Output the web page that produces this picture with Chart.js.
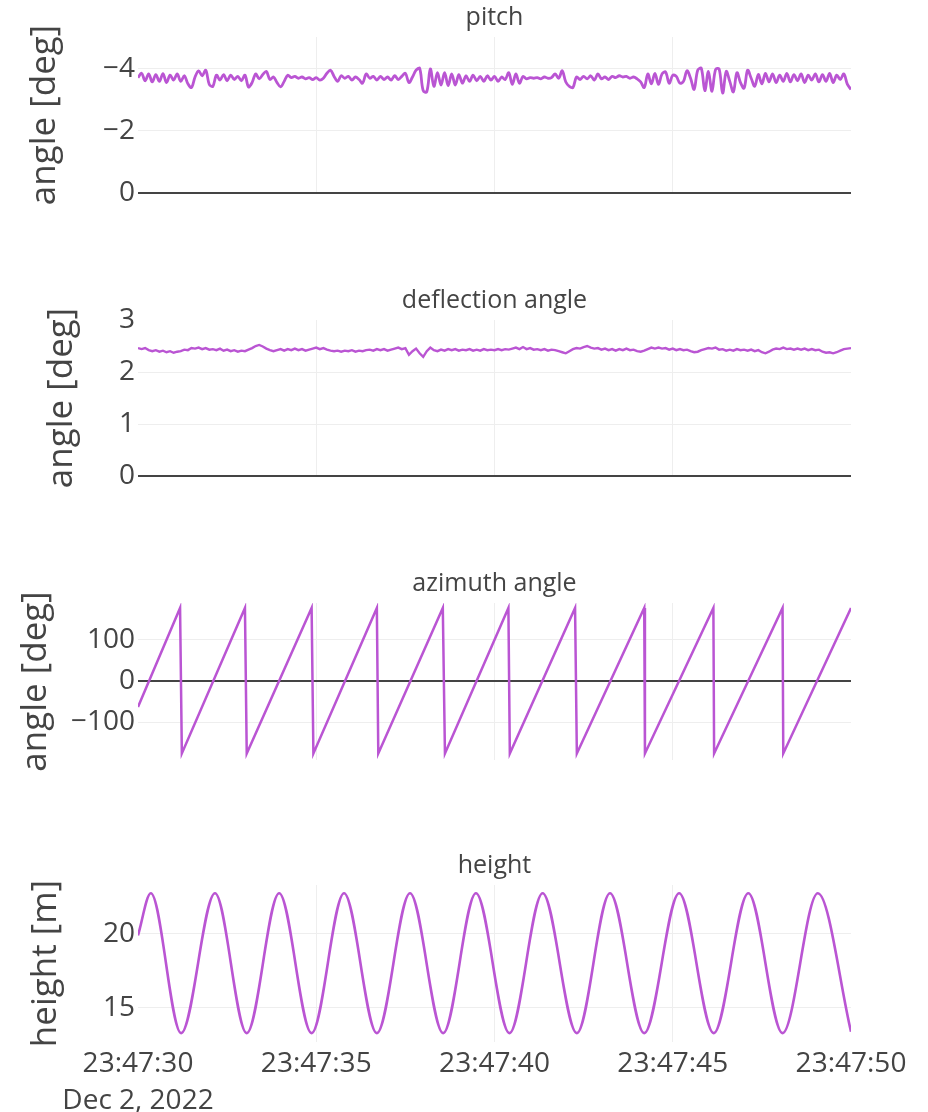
<!DOCTYPE html>
<html>
<head>
<meta charset="utf-8">
<title>pitch / deflection angle / azimuth angle / height</title>
<script src="https://cdn.jsdelivr.net/npm/chart.js@4.4.1/dist/chart.umd.min.js"></script>
<style>
  html, body { margin: 0; padding: 0; background: #fff; }
  #wrap { position: relative; width: 928px; height: 1112px; overflow: hidden; }
  #wrap canvas { position: absolute; left: 0; }
</style>
</head>
<body>
<div id="wrap">
  <canvas id="pitch" width="928" height="283" style="top:0px"></canvas>
  <canvas id="deflection" width="928" height="283" style="top:283px"></canvas>
  <canvas id="azimuth" width="928" height="284" style="top:566px"></canvas>
  <canvas id="height" width="928" height="264" style="top:848px"></canvas>
</div>
<script>
// time axis (seconds after 23:47:30)
const tickSeconds = [0, 5, 10, 15, 20];
const tickLabels = ["23:47:30", "23:47:35", "23:47:40", "23:47:45", "23:47:50"];
const dateLabel = "Dec 2, 2022";

// pitch and deflection are sampled every 0.1 s from 0 to 20 s
const sampleStep = 0.1;

const pitchValues = [
    -3.72, -3.86, -3.62, -3.84, -3.58, -3.82, -3.60, -3.85, -3.56, -3.80,
    -3.64, -3.84, -3.60, -3.78, -3.52, -3.40, -3.74, -3.94, -3.78, -3.96,
    -3.50, -3.44, -3.80, -3.64, -3.82, -3.62, -3.80, -3.66, -3.76, -3.62,
    -3.80, -3.42, -3.56, -3.84, -3.68, -3.82, -3.92, -3.66, -3.74, -3.56,
    -3.42, -3.60, -3.80, -3.72, -3.76, -3.70, -3.74, -3.68, -3.72, -3.66,
    -3.72, -3.64, -3.70, -3.86, -3.96, -3.76, -3.60, -3.78, -3.70, -3.76,
    -3.64, -3.74, -3.66, -3.54, -3.84, -3.70, -3.76, -3.64, -3.76, -3.66,
    -3.74, -3.64, -3.78, -3.66, -3.76, -3.86, -3.56, -3.74, -3.96, -4.02,
    -3.30, -3.26, -4.00, -3.44, -3.88, -3.48, -3.88, -3.46, -3.84, -3.48,
    -3.82, -3.54, -3.78, -3.60, -3.80, -3.62, -3.76, -3.60, -3.78, -3.64,
    -3.76, -3.60, -3.74, -3.66, -3.88, -3.50, -3.84, -3.54, -3.76, -3.68,
    -3.72, -3.70, -3.72, -3.68, -3.74, -3.70, -3.72, -3.84, -3.70, -3.94,
    -3.58, -3.44, -3.40, -3.74, -3.66, -3.76, -3.68, -3.78, -3.64, -3.84,
    -3.68, -3.74, -3.66, -3.76, -3.72, -3.78, -3.74, -3.76, -3.70, -3.74,
    -3.68, -3.58, -3.40, -3.84, -3.52, -3.86, -3.50, -3.84, -3.90, -3.54,
    -3.80, -3.76, -3.54, -3.60, -3.94, -3.70, -3.34, -3.96, -4.02, -3.30,
    -3.92, -3.28, -3.98, -4.00, -3.22, -3.92, -3.60, -3.26, -3.88, -3.56,
    -3.38, -3.96, -3.70, -3.44, -3.82, -3.52, -3.86, -3.58, -3.84, -3.56,
    -3.80, -3.60, -3.86, -3.58, -3.82, -3.62, -3.84, -3.56, -3.80, -3.64,
    -3.84, -3.58, -3.82, -3.60, -3.86, -3.56, -3.80, -3.66, -3.84, -3.50,
    -3.34
];

const deflectionValues = [
    2.46, 2.44, 2.46, 2.42, 2.40, 2.42, 2.39, 2.41, 2.38, 2.40,
    2.37, 2.39, 2.40, 2.43, 2.42, 2.46, 2.45, 2.47, 2.44, 2.46,
    2.43, 2.44, 2.42, 2.45, 2.41, 2.43, 2.40, 2.42, 2.39, 2.41,
    2.40, 2.43, 2.46, 2.50, 2.52, 2.49, 2.45, 2.42, 2.40, 2.42,
    2.44, 2.41, 2.44, 2.42, 2.45, 2.42, 2.44, 2.41, 2.43, 2.45,
    2.47, 2.44, 2.46, 2.43, 2.41, 2.40, 2.41, 2.39, 2.41, 2.40,
    2.42, 2.39, 2.41, 2.40, 2.42, 2.43, 2.41, 2.44, 2.42, 2.44,
    2.41, 2.43, 2.45, 2.47, 2.44, 2.46, 2.33, 2.40, 2.45, 2.36,
    2.29, 2.40, 2.47, 2.42, 2.40, 2.43, 2.41, 2.44, 2.42, 2.44,
    2.41, 2.43, 2.42, 2.44, 2.41, 2.43, 2.41, 2.44, 2.42, 2.43,
    2.42, 2.44, 2.42, 2.44, 2.43, 2.45, 2.47, 2.44, 2.48, 2.44,
    2.46, 2.43, 2.44, 2.42, 2.44, 2.41, 2.43, 2.42, 2.40, 2.38,
    2.36, 2.40, 2.44, 2.46, 2.45, 2.48, 2.50, 2.47, 2.45, 2.46,
    2.43, 2.45, 2.42, 2.44, 2.41, 2.44, 2.42, 2.45, 2.42, 2.43,
    2.40, 2.39, 2.41, 2.44, 2.47, 2.45, 2.47, 2.45, 2.46, 2.43,
    2.45, 2.42, 2.44, 2.42, 2.43, 2.40, 2.38, 2.39, 2.42, 2.44,
    2.46, 2.45, 2.47, 2.43, 2.44, 2.41, 2.43, 2.41, 2.44, 2.42,
    2.43, 2.41, 2.43, 2.40, 2.42, 2.38, 2.36, 2.39, 2.43, 2.45,
    2.44, 2.47, 2.44, 2.45, 2.43, 2.45, 2.43, 2.45, 2.42, 2.44,
    2.42, 2.43, 2.39, 2.37, 2.38, 2.36, 2.38, 2.41, 2.44, 2.45,
    2.46
];

// azimuth: ramp tops and bottoms (seconds / degrees)
const azimuthTimes = [0, 1.18, 1.23, 3.00, 3.05, 4.87, 4.92, 6.70, 6.74, 8.55, 8.61,
    10.39, 10.43, 12.26, 12.31, 14.20, 14.22, 16.14, 16.16, 18.08, 18.10, 20.00, 20.02];
const azimuthValues = [-63, 178, -176, 178, -176, 178, -176, 178, -176, 178, -176,
    178, -176, 178, -176, 178, -176, 178, -176, 178, -176, 178, -176];

// height: crests and troughs (seconds / metres)
const heightTimes = [0, 0.36, 1.21, 2.16, 3.05, 3.96, 4.87, 5.78, 6.70, 7.63, 8.56,
    9.48, 10.42, 11.35, 12.31, 13.24, 14.20, 15.18, 16.15, 17.12, 18.08, 19.07, 20.00];
const heightValues = [19.9, 22.75, 13.3, 22.75, 13.3, 22.75, 13.3, 22.75, 13.3, 22.75, 13.3,
    22.75, 13.3, 22.75, 13.3, 22.75, 13.3, 22.75, 13.3, 22.75, 13.3, 22.75, 13.4];


Chart.defaults.font.family = '"Open Sans", "DejaVu Sans", sans-serif';
Chart.defaults.color = "#444";

var LINE = "#ba55d3";

// subplot title above each plot area
var panelTitle = {
    id: "panelTitle",
    afterDraw: function (chart, args, opts) {
        var a = chart.chartArea, ctx = chart.ctx;
        ctx.save();
        ctx.font = '25px "Open Sans", sans-serif';
        ctx.fillStyle = "#444";
        ctx.textAlign = "center";
        ctx.textBaseline = "middle";
        ctx.fillText(opts.text, (a.left + a.right) / 2, a.top - 19);
        ctx.restore();
    }
};

function sampled(values) {
    return values.map(function (v, i) { return { x: Math.round(i * sampleStep * 10) / 10, y: v }; });
}

function paired(times, values) {
    return times.map(function (t, i) { return { x: t, y: values[i] }; });
}

function minusSign(v) {
    return v < 0 ? "\u2212" + Math.abs(v) : String(v);
}

// p: title, yTitle, titleGap, line width, tension, smooth, showTime
function panel(id, p, points, y) {
    return new Chart(document.getElementById(id).getContext("2d"), {
        type: "line",
        data: {
            datasets: [{
                data: points,
                borderColor: LINE,
                borderWidth: p.width,
                pointRadius: 0,
                tension: p.tension || 0,
                cubicInterpolationMode: p.smooth ? "monotone" : "default"
            }]
        },
        plugins: [panelTitle],
        options: {
            responsive: false,
            animation: false,
            events: [],
            layout: { padding: { left: 0, right: 77, top: 37, bottom: 0 } },
            plugins: {
                legend: { display: false },
                tooltip: { enabled: false },
                panelTitle: { text: p.title }
            },
            scales: {
                x: {
                    type: "linear",
                    min: 0,
                    max: 20,
                    border: { display: false },
                    grid: {
                        drawTicks: false,
                        color: function (c) {
                            return (c.tick && c.tick.value > 0 && c.tick.value < 20) ? "#eee" : "rgba(0,0,0,0)";
                        }
                    },
                    ticks: {
                        display: !!p.showTime,
                        stepSize: 5,
                        autoSkip: false,
                        maxRotation: 0,
                        padding: 4,
                        color: "#444",
                        font: { size: 28, lineHeight: 1.3 },
                        callback: function (value) {
                            var i = tickSeconds.indexOf(value);
                            if (i < 0) return "";
                            return i === 0 ? [tickLabels[0], dateLabel] : tickLabels[i];
                        }
                    },
                    afterFit: function (s) { s.height = p.showTime ? 70 : 90; }
                },
                y: {
                    min: y.min,
                    max: y.max,
                    reverse: !!y.reverse,
                    border: { display: false },
                    grid: {
                        drawTicks: false,
                        color: function (c) {
                            if (!c.tick) return "#eee";
                            if (c.tick.value === 0) return "#444";
                            if (c.tick.value === y.min || c.tick.value === y.max) return "rgba(0,0,0,0)";
                            return "#eee";
                        },
                        lineWidth: function (c) {
                            return (c.tick && c.tick.value === 0) ? 2 : 1;
                        }
                    },
                    ticks: {
                        stepSize: y.step,
                        includeBounds: false,
                        padding: 3,
                        color: "#444",
                        font: { size: 28 },
                        callback: minusSign
                    },
                    title: {
                        display: true,
                        text: p.yTitle,
                        color: "#444",
                        font: { size: 35 },
                        padding: { top: p.titleGap, bottom: 0 }
                    },
                    afterFit: function (s) { s.width = 138; }
                }
            }
        }
    });
}

panel("pitch",
    { title: "pitch", yTitle: "angle [deg]", titleGap: 24, width: 2.8, tension: 0.35 },
    sampled(pitchValues), { min: -5.03, max: 0, step: 2, reverse: true });

panel("deflection",
    { title: "deflection angle", yTitle: "angle [deg]", titleGap: 41, width: 2.4 },
    sampled(deflectionValues), { min: 0, max: 3, step: 1 });

panel("azimuth",
    { title: "azimuth angle", yTitle: "angle [deg]", titleGap: 15, width: 2.5 },
    paired(azimuthTimes, azimuthValues), { min: -192, max: 190, step: 100 });

panel("height",
    { title: "height", yTitle: "height [m]", titleGap: 25, width: 2.6, smooth: true, showTime: true },
    paired(heightTimes, heightValues), { min: 12.7, max: 23.31, step: 5 });
</script>
</body>
</html>
